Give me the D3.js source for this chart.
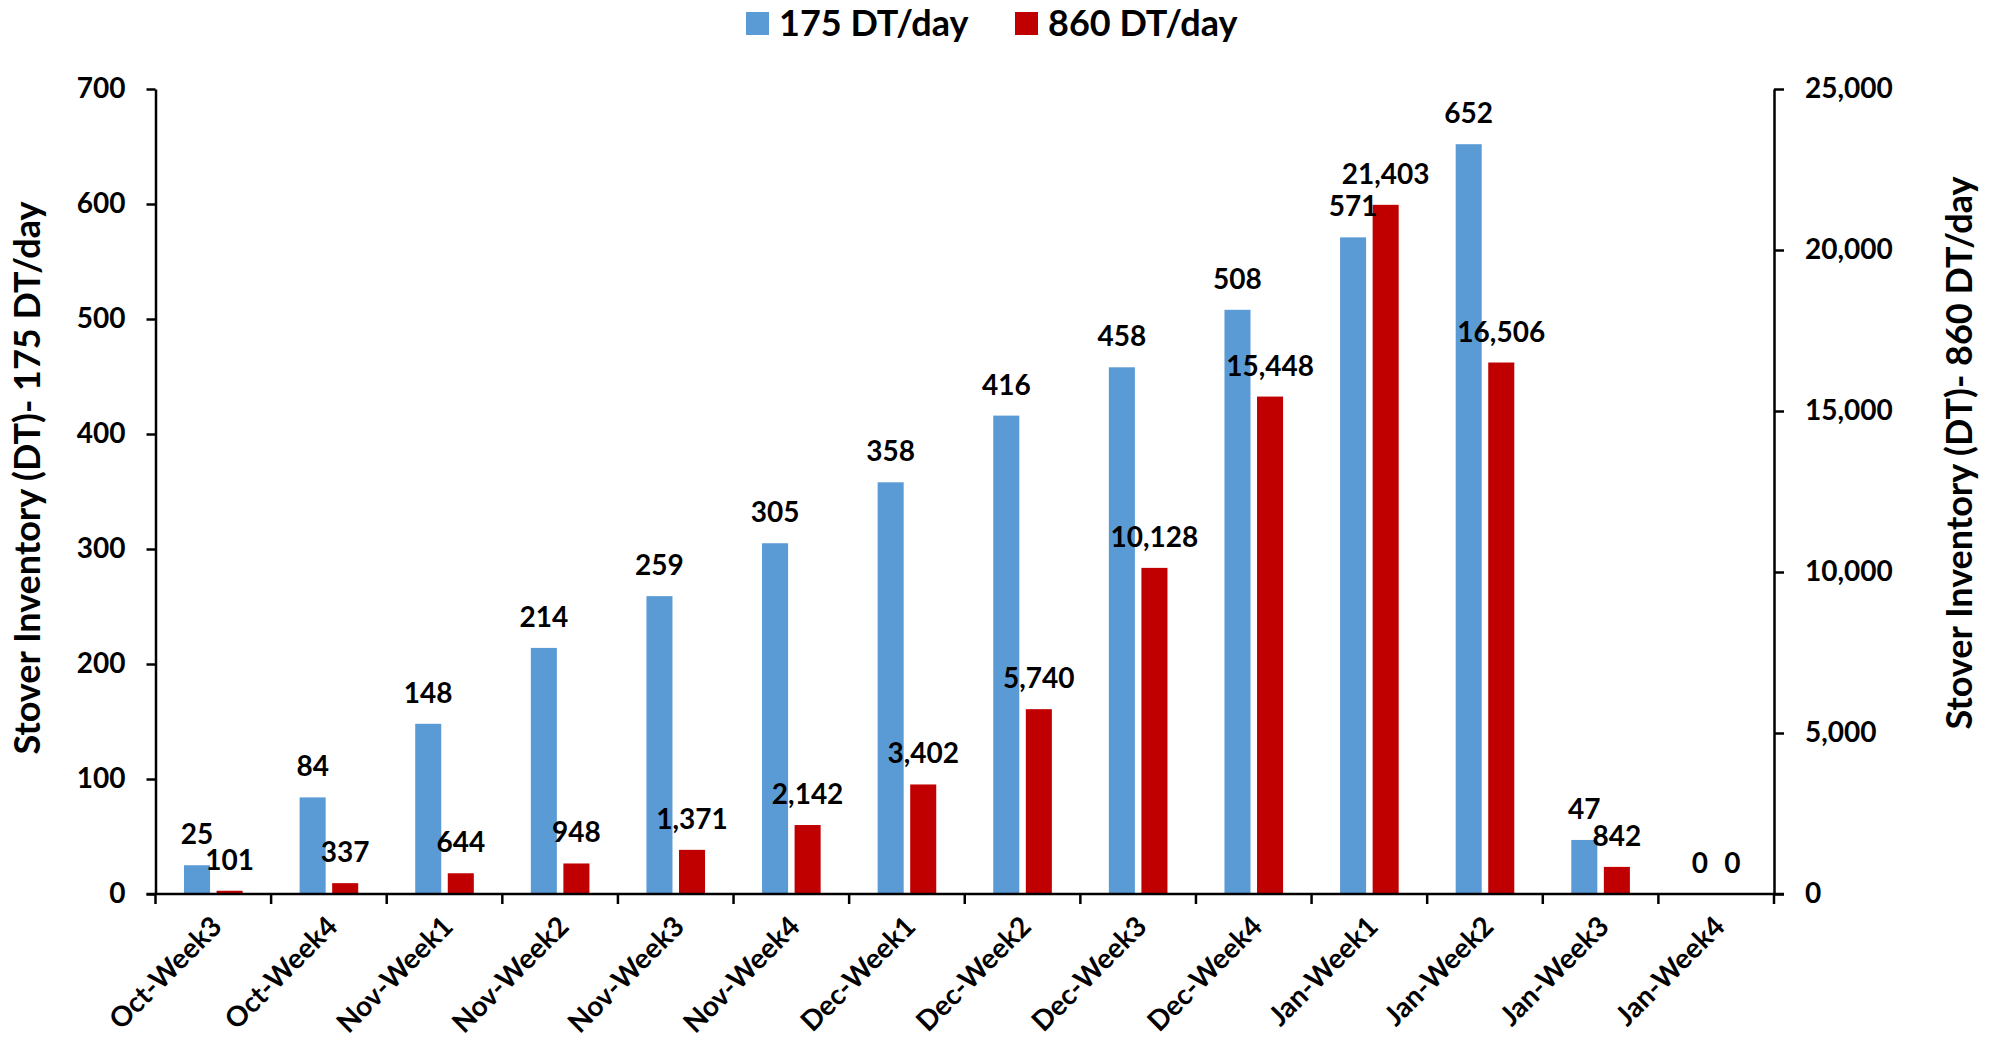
<!DOCTYPE html>
<html>
<head>
<meta charset="utf-8">
<script src="https://cdnjs.cloudflare.com/ajax/libs/d3/7.8.5/d3.min.js"></script>
<style>
  body { margin: 0; background: #fff; }
  svg text { font-family: Lato, "Liberation Sans", sans-serif; font-weight: bold; fill: #000; }
</style>
</head>
<body>
<div id="viz"></div>
<script>
// weeks on the x axis
var weeks = ["Oct-Week3","Oct-Week4","Nov-Week1","Nov-Week2","Nov-Week3","Nov-Week4",
             "Dec-Week1","Dec-Week2","Dec-Week3","Dec-Week4","Jan-Week1","Jan-Week2","Jan-Week3","Jan-Week4"];
// inventory, 175 DT/day (left axis)
var inv175 = [25,84,148,214,259,305,358,416,458,508,571,652,47,0];
// inventory, 860 DT/day (right axis)
var inv860 = [101,337,644,948,1371,2142,3402,5740,10128,15448,21403,16506,842,0];
var seriesNames = ["175 DT/day","860 DT/day"];
var leftTicks = [0,100,200,300,400,500,600,700];
var rightTicks = [0,5000,10000,15000,20000,25000];

var W = 1993, H = 1045;
var pL = 155.5, pR = 1774, pT = 89, pB = 894;
var colors = ["#5B9BD5","#C00000"];

var svg = d3.select("#viz").append("svg")
    .attr("width", W).attr("height", H);

var x = d3.scaleBand().domain(weeks).range([pL, pR]).padding(0);
var xSub = d3.scaleBand().domain([0,1])
    .range([28.5, x.bandwidth() - 28.5]).paddingInner(0.2);
var yL = d3.scaleLinear().domain([0,700]).range([pB, pT]);
var yR = d3.scaleLinear().domain([0,25000]).range([pB, pT]);

var rows = weeks.map(function(w,i){
    return {week: w, vals: [{s:0, v:inv175[i], y:yL(inv175[i])}, {s:1, v:inv860[i], y:yR(inv860[i])}]};
});

var gs = svg.selectAll("g.cat")
    .data(rows).enter().append("g")
    .attr("class","cat")
    .attr("transform", function(d){ return "translate(" + x(d.week) + ",0)"; });

gs.selectAll("rect").data(function(d){ return d.vals; }).enter().append("rect")
    .attr("x", function(d){ return xSub(d.s); })
    .attr("width", xSub.bandwidth())
    .attr("y", function(d){ return d.y; })
    .attr("height", function(d){ return pB - d.y; })
    .attr("fill", function(d){ return colors[d.s]; });

gs.selectAll("text.lbl").data(function(d){ return d.vals; }).enter().append("text")
    .attr("class","lbl")
    .attr("x", function(d){ return xSub(d.s) + xSub.bandwidth()/2; })
    .attr("y", function(d){ return d.y - 21; })
    .attr("text-anchor","middle")
    .style("font-size","28px")
    .text(function(d){ return d3.format(",")(d.v); });

// axes
var fmt = d3.format(",");
var axL = svg.append("g").attr("transform","translate(" + pL + ",0)")
    .call(d3.axisLeft(yL).tickValues(leftTicks).tickSize(9).tickPadding(21).tickSizeOuter(0));
var axR = svg.append("g").attr("transform","translate(" + pR + ",0)")
    .call(d3.axisRight(yR).tickValues(rightTicks).tickFormat(fmt).tickSize(10).tickPadding(21).tickSizeOuter(0));
var bounds = d3.range(weeks.length + 1).map(function(i){ return pL + i * x.step(); });
var axB = svg.append("g").attr("transform","translate(0," + pB + ")");
axB.append("line").attr("x1",pL - 9).attr("x2",pR + 10)
    .attr("stroke","#000").attr("stroke-width",2.5);
axB.selectAll("line.tk").data(bounds).enter().append("line")
    .attr("class","tk")
    .attr("x1",function(d){ return d; }).attr("x2",function(d){ return d; })
    .attr("y1",0).attr("y2",10)
    .attr("stroke","#000").attr("stroke-width",2.5);

[axL, axR].forEach(function(a){
    a.select(".domain").attr("stroke","#000").attr("stroke-width",2.5);
    a.selectAll(".tick line").attr("stroke","#000").attr("stroke-width",2.5);
    a.selectAll(".tick text").style("font-size","28px").attr("font-family",null);
});

// category labels
svg.selectAll("text.cat").data(weeks).enter().append("text")
    .attr("class","cat")
    .attr("text-anchor","end")
    .attr("dy","0.72em")
    .style("font-size","28px")
    .attr("transform", function(d){
        return "translate(" + (x(d) + x.bandwidth()/2 - 4) + ",914) rotate(-45)";
    })
    .text(function(d){ return d; });

// axis titles
svg.append("text")
    .attr("transform","translate(40,478) rotate(-90)")
    .attr("text-anchor","middle")
    .style("font-size","36px")
    .text("Stover Inventory (DT)- 175 DT/day");
svg.append("text")
    .attr("transform","translate(1972,453) rotate(-90)")
    .attr("text-anchor","middle")
    .style("font-size","36px")
    .text("Stover Inventory (DT)- 860 DT/day");

// legend
var legX = [746, 1015];
var leg = svg.selectAll("g.leg").data(seriesNames).enter().append("g")
    .attr("class","leg")
    .attr("transform", function(d,i){ return "translate(" + legX[i] + ",12)"; });
leg.append("rect").attr("width",23).attr("height",23)
    .attr("fill", function(d,i){ return colors[i]; });
leg.append("text").attr("x",33).attr("y",24)
    .style("font-size","36px")
    .text(function(d){ return d; });
</script>
</body>
</html>
